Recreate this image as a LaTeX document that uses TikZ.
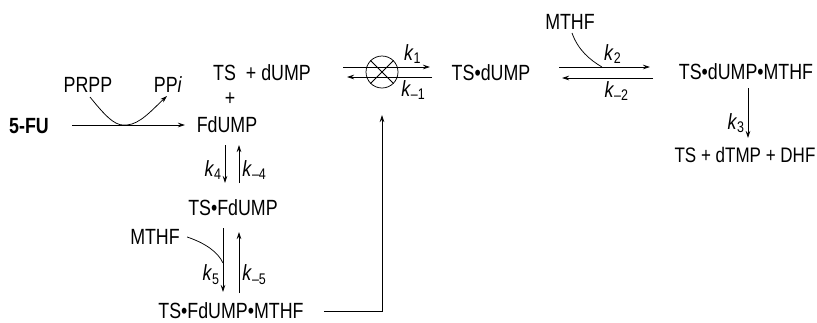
\documentclass[tikz,border=0pt]{standalone}
\usepackage{fontspec}
\setmainfont{Liberation Sans}[FakeStretch=0.81]
\usetikzlibrary{arrows.meta,calc,positioning}

\newcommand{\kr}[1]{\textit{k}\textsubscript{#1}}

\begin{document}
\begin{tikzpicture}[x=1pt,y=-1pt,>={Stealth[length=7pt,width=4.5pt]},
  line width=0.75pt,font=\fontsize{22}{26}\selectfont,
  every node/.style={inner sep=1pt},
  rxn/.style={->},
  klab/.style={inner sep=3pt}]
  \useasboundingbox (0,0) rectangle (817,322);
  % 5-FU -> FdUMP
  \node (fu) at (29,126) {\bfseries 5-FU};
  \node (prpp) at (88,85) {PRPP};
  \node (ppi) at (168,85) {PP\textit{i}};
  \node (fdump) at (227,125) {FdUMP};
  \node (plus) at (230,99) {+};
  \node (tsdump) at (262,73) {TS\ \ + dUMP};
  \draw[rxn] (72,125) -- (185,125);
  \draw[rxn] (90,97) .. controls (110,122) and (117,126) .. (127,125)
    .. controls (140,124) and (152,110) .. (167,96);
  % FdUMP <-> TS.FdUMP <-> TS.FdUMP.MTHF
  \node (tsfd) at (233,208) {TS\textbullet FdUMP};
  \node (tsfdm) at (231,311) {TS\textbullet FdUMP\textbullet MTHF};
  \node (mthfa) at (155,237) {MTHF};
  \draw[rxn] (225,145) -- (225,183) node[klab,pos=0.66,left] {\kr{4}};
  \draw[rxn] (239,183) -- (239,145) node[klab,pos=0.34,right] {\kr{–4}};
  \draw[rxn] (223,228) -- (223,292) node[klab,pos=0.73,left] {\kr{5}};
  \draw[rxn] (239,293) -- (239,232) node[klab,pos=0.3,right] {\kr{–5}};
  \draw (mthfa.east) ++(6,0) .. controls (205,243) and (218,252) .. (223,263);
  % inhibition of TS
  \node[circle,draw,minimum size=32pt,inner sep=0pt] (mix) at (382,72) {};
  \draw (mix.north west) -- (mix.south east);
  \draw (mix.north east) -- (mix.south west);
  \coordinate (fb) at (382,115);
  \draw[rxn] ($(tsfdm.east)+(19,0)$) -| (fb);
  % TS + dUMP <-> TS.dUMP <-> TS.dUMP.MTHF -> products
  \node (tsd) at (491,73) {TS\textbullet dUMP};
  \node (mthfb) at (570,22) {MTHF};
  \node (tsdm) at (746,72) {TS\textbullet dUMP\textbullet MTHF};
  \node[font=\fontsize{21}{25}\selectfont] (prod) at (745,155) {TS + dTMP + DHF};
  \draw[rxn] (343,67) -- (430,67) node[klab,pos=0.8,above] {\kr{1}};
  \draw[rxn] (432,77) -- (347,77) node[klab,pos=0.22,below] {\kr{–1}};
  \draw[rxn] (559,67) -- (650,67) node[klab,pos=0.59,above] {\kr{2}};
  \draw[rxn] (653,78) -- (562,78) node[klab,pos=0.4,below] {\kr{–2}};
  \draw (mthfb.south) ++(2,2) .. controls (578,50) and (590,60) .. (602,67);
  \draw[rxn] (748,88) -- (748,138) node[klab,pos=0.7,left] {\kr{3}};
\end{tikzpicture}
\end{document}
